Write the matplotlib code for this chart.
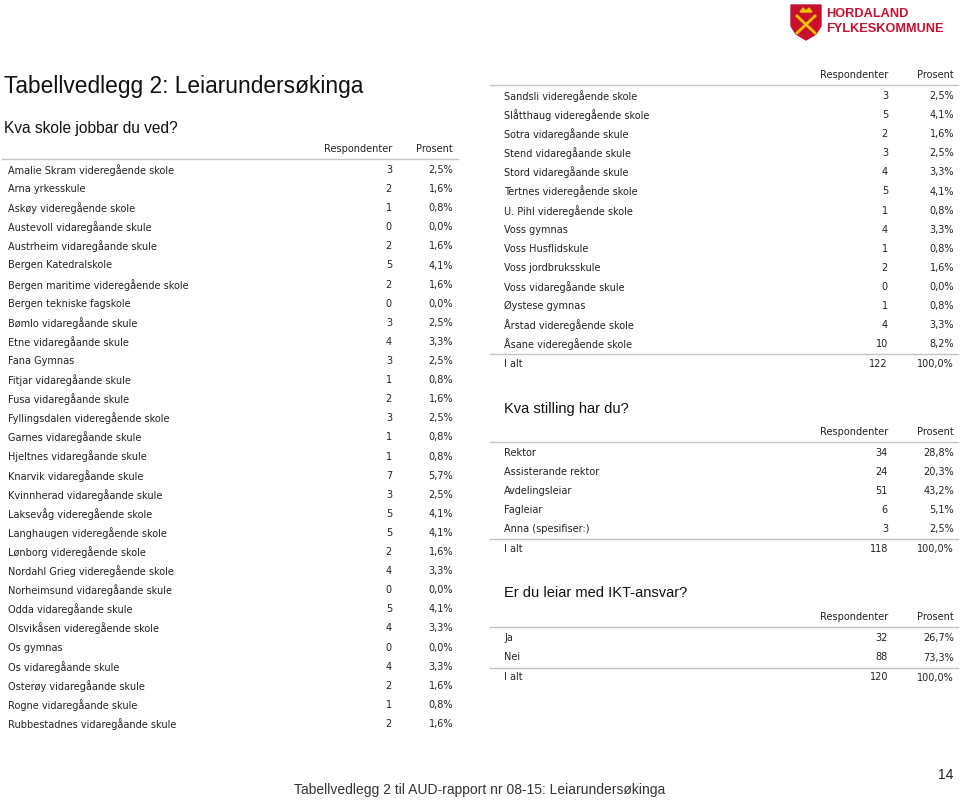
import matplotlib
matplotlib.use("Agg")
from matplotlib import pyplot as plt
from matplotlib.patches import Polygon

# data read from the page
skular_a = ["Amalie Skram videregående skole", "Arna yrkesskule", "Askøy videregående skole",
            "Austevoll vidaregåande skule", "Austrheim vidaregåande skule", "Bergen Katedralskole",
            "Bergen maritime videregående skole", "Bergen tekniske fagskole", "Bømlo vidaregåande skule",
            "Etne vidaregåande skule", "Fana Gymnas", "Fitjar vidaregåande skule", "Fusa vidaregåande skule",
            "Fyllingsdalen videregående skole", "Garnes vidaregåande skule", "Hjeltnes vidaregåande skule",
            "Knarvik vidaregåande skule", "Kvinnherad vidaregåande skule", "Laksevåg videregående skole",
            "Langhaugen videregående skole", "Lønborg videregående skole", "Nordahl Grieg videregående skole",
            "Norheimsund vidaregåande skule", "Odda vidaregåande skule", "Olsvikåsen videregående skole",
            "Os gymnas", "Os vidaregåande skule", "Osterøy vidaregåande skule", "Rogne vidaregåande skule",
            "Rubbestadnes vidaregåande skule"]
antal_a = [3, 2, 1, 0, 2, 5, 2, 0, 3, 4, 3, 1, 2, 3, 1, 1, 7, 3, 5, 5, 2, 4, 0, 5, 4, 0, 4, 2, 1, 2]
pst_a = [2.5, 1.6, 0.8, 0.0, 1.6, 4.1, 1.6, 0.0, 2.5, 3.3, 2.5, 0.8, 1.6, 2.5, 0.8, 0.8, 5.7, 2.5,
         4.1, 4.1, 1.6, 3.3, 0.0, 4.1, 3.3, 0.0, 3.3, 1.6, 0.8, 1.6]

skular_b = ["Sandsli videregående skole", "Slåtthaug videregående skole", "Sotra vidaregåande skule",
            "Stend vidaregåande skule", "Stord vidaregåande skule", "Tertnes videregående skole",
            "U. Pihl videregående skole", "Voss gymnas", "Voss Husflidskule", "Voss jordbruksskule",
            "Voss vidaregåande skule", "Øystese gymnas", "Årstad videregående skole", "Åsane videregående skole"]
antal_b = [3, 5, 2, 3, 4, 5, 1, 4, 1, 2, 0, 1, 4, 10]
pst_b = [2.5, 4.1, 1.6, 2.5, 3.3, 4.1, 0.8, 3.3, 0.8, 1.6, 0.0, 0.8, 3.3, 8.2]
total_skule = (122, 100.0)

stilling = ["Rektor", "Assisterande rektor", "Avdelingsleiar", "Fagleiar", "Anna (spesifiser:)"]
antal_stilling = [34, 24, 51, 6, 3]
pst_stilling = [28.8, 20.3, 43.2, 5.1, 2.5]
total_stilling = (118, 100.0)

ikt = ["Ja", "Nei"]
antal_ikt = [32, 88]
pst_ikt = [26.7, 73.3]
total_ikt = (120, 100.0)

TXT = "#222222"
LINE = "#c4c4c4"
FS = 7.0
TFONT = ["Liberation Sans", "DejaVu Sans"]

fig = plt.figure(figsize=(9.6, 8), dpi=100)
ax = fig.add_axes([0, 0, 1, 1])
ax.set_xlim(0, 960)
ax.set_ylim(800, 0)
ax.axis("off")


def fmt(p):
    return ("%.1f%%" % p).replace(".", ",")


def table(y0, x0, x1, xlab, xn, xp, labels, counts, pcts, total=None, step=19.1):
    ax.text(xn, y0, "Respondenter", ha="right", va="center", fontsize=FS, color=TXT)
    ax.text(xp, y0, "Prosent", ha="right", va="center", fontsize=FS, color=TXT)
    ax.plot([x0, x1], [y0 + 10, y0 + 10], color=LINE, lw=1)
    y = y0 + 21
    for lab, n, p in zip(labels, counts, pcts):
        ax.text(xlab, y, lab, ha="left", va="center", fontsize=FS, color=TXT)
        ax.text(xn, y, str(n), ha="right", va="center", fontsize=FS, color=TXT)
        ax.text(xp, y, fmt(p), ha="right", va="center", fontsize=FS, color=TXT)
        y += step
    if total is not None:
        ly = y - step + 10
        ax.plot([x0, x1], [ly, ly], color=LINE, lw=1)
        y = ly + 10
        ax.text(xlab, y, "I alt", ha="left", va="center", fontsize=FS, color=TXT)
        ax.text(xn, y, str(total[0]), ha="right", va="center", fontsize=FS, color=TXT)
        ax.text(xp, y, fmt(total[1]), ha="right", va="center", fontsize=FS, color=TXT)


# titles
ax.text(4, 86, "Tabellvedlegg 2: Leiarundersøkinga", fontsize=16.4, family=TFONT,
        color="#111111", va="center")
ax.text(4, 128, "Kva skole jobbar du ved?", fontsize=11.2, family=TFONT, color="#111111", va="center")

table(149, 2, 458, 8, 392, 453, skular_a, antal_a, pst_a)
table(75, 490, 958, 504, 888, 954, skular_b, antal_b, pst_b, total_skule)

ax.text(504, 409, "Kva stilling har du?", fontsize=10.5, family=TFONT, color="#111111", va="center")
table(432, 490, 958, 504, 888, 954, stilling, antal_stilling, pst_stilling, total_stilling)

ax.text(504, 593, "Er du leiar med IKT-ansvar?", fontsize=10.5, family=TFONT, color="#111111", va="center")
table(617, 490, 958, 504, 888, 954, ikt, antal_ikt, pst_ikt, total_ikt, step=19.5)

# footer
ax.text(480, 790, "Tabellvedlegg 2 til AUD-rapport nr 08-15: Leiarundersøkinga", fontsize=10,
        family=TFONT, color="#333333", ha="center", va="center")
ax.text(946, 775, "14", fontsize=10, family=TFONT, color="#222222", ha="center", va="center")

# logo
red = "#c8102e"
ax.add_patch(Polygon([(791, 5), (821, 5), (821, 26), (816, 34), (806, 40), (796, 34), (791, 26)],
                     closed=True, color=red))
ax.plot([797, 815], [16, 33], color="#f2c200", lw=2)
ax.plot([815, 797], [16, 33], color="#f2c200", lw=2)
ax.add_patch(Polygon([(800, 12), (803, 8), (806, 11), (809, 8), (812, 12)], closed=True, color="#f2c200"))
ax.text(826, 14, "HORDALAND", fontsize=9.2, family=TFONT, weight="bold", color=red, va="center")
ax.text(826, 29, "FYLKESKOMMUNE", fontsize=9.2, family=TFONT, weight="bold", color=red, va="center")

fig.savefig("out.png", dpi=100, facecolor="white")
